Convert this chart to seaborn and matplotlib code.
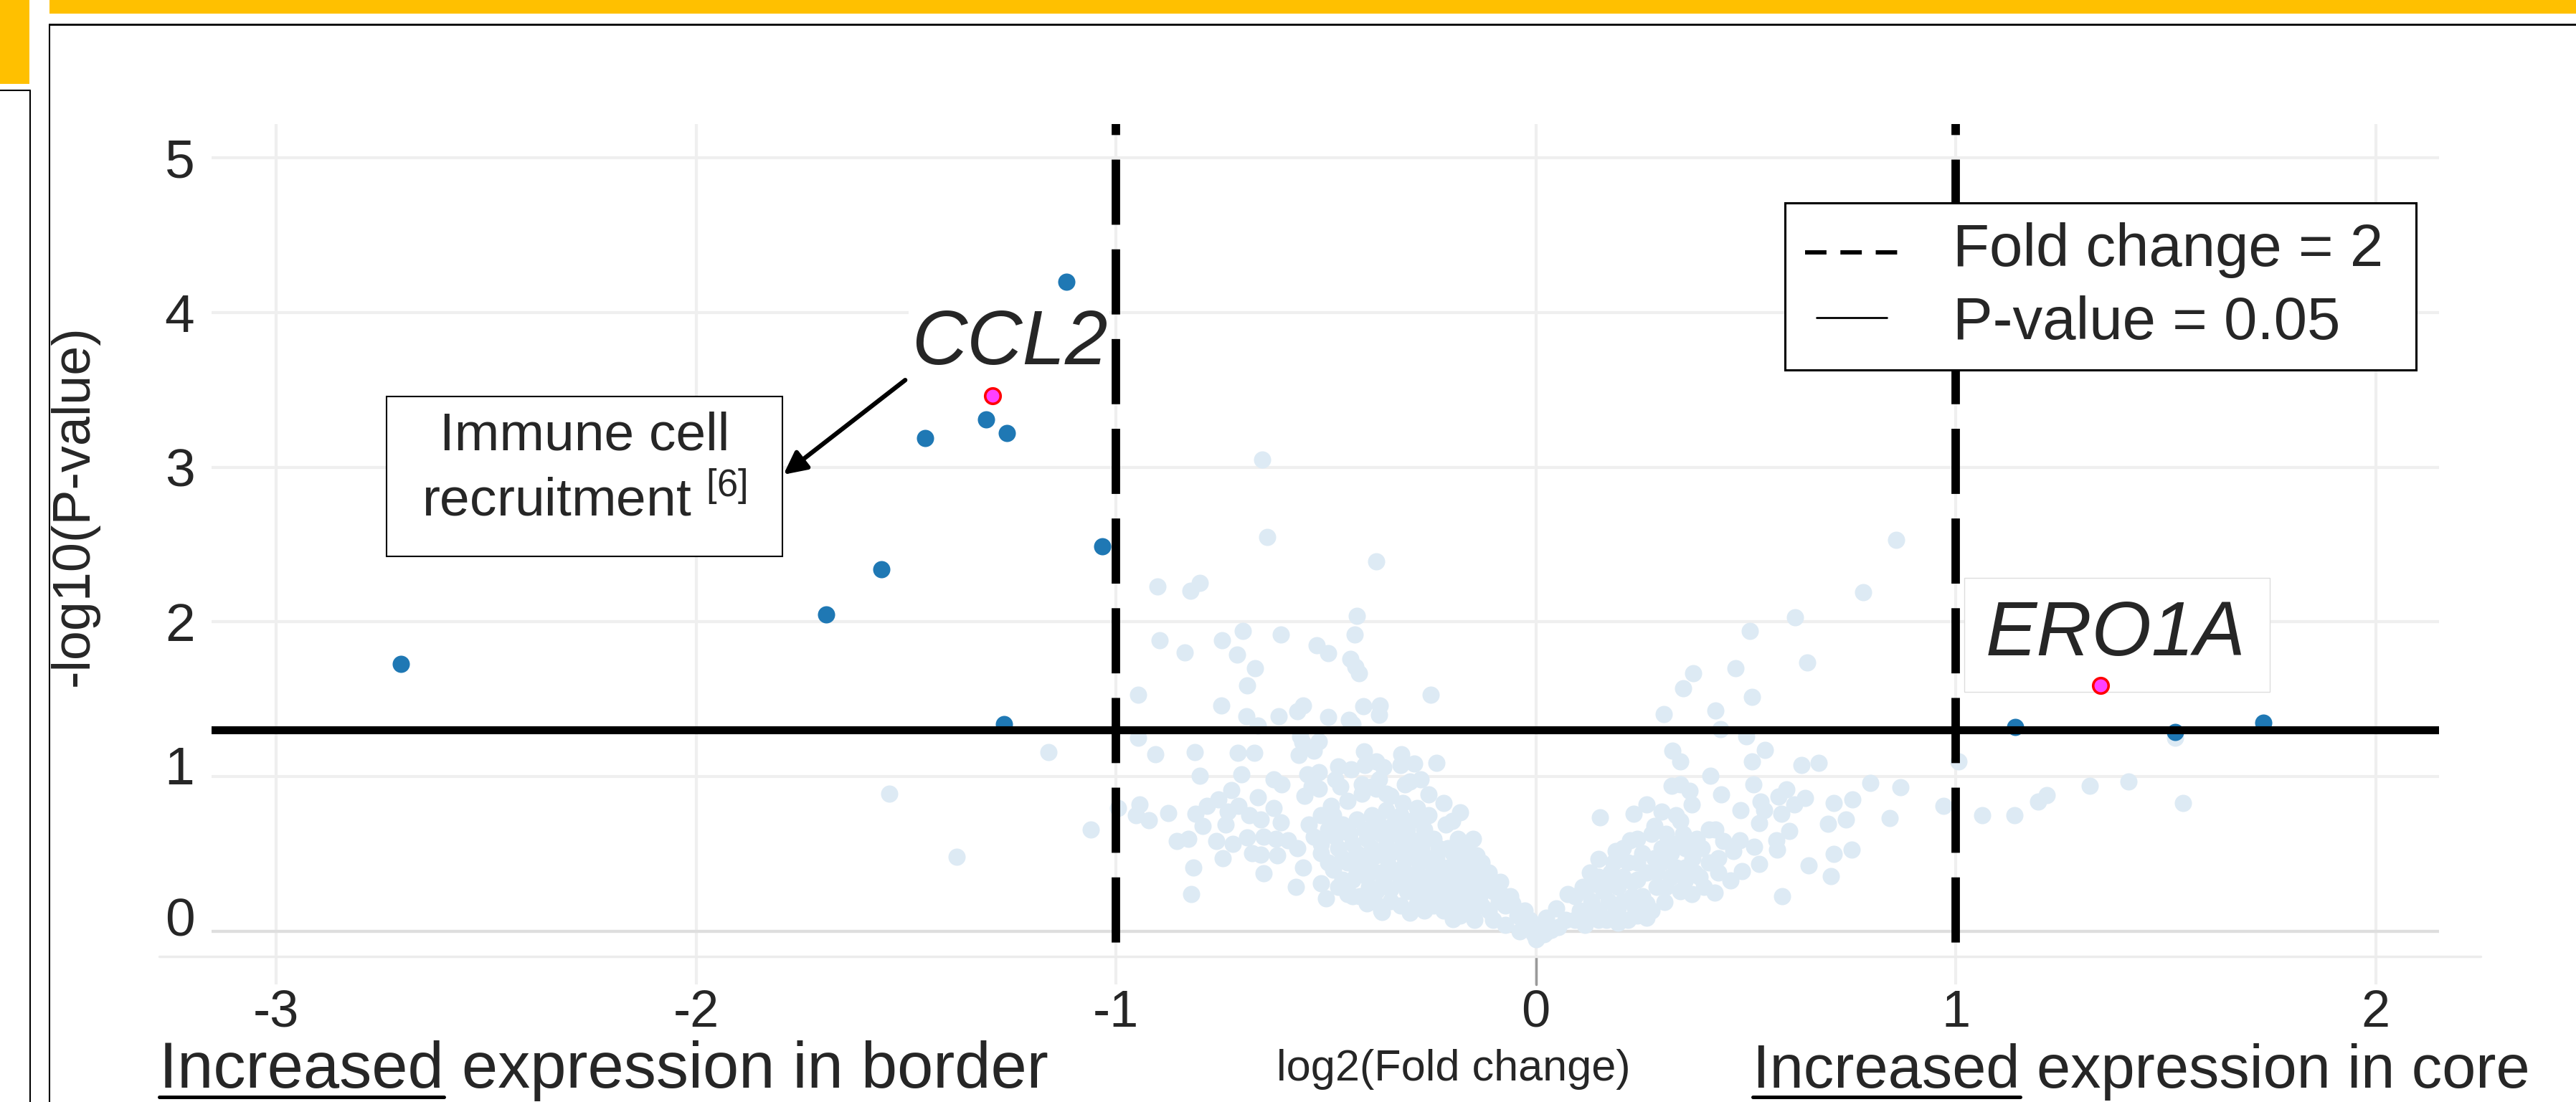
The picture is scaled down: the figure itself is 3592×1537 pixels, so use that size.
import matplotlib
matplotlib.use("Agg")
import pandas as pd
import seaborn as sns
import matplotlib.pyplot as plt
from matplotlib.lines import Line2D
from matplotlib.patches import Rectangle
from matplotlib.transforms import ScaledTranslation

# genes that are not significant (light cloud)
ns_fc = [
    # far left
    -1.54, -1.38, -1.16, -1.06,
    -0.947, -0.837, -0.907, -0.812, -0.947, -0.801, -0.944, -0.952, -0.921, -0.875, -0.995,
    -0.810, -0.784, -0.793, -0.855, -0.827, -0.761, -0.816, -0.821,
    # upper part
    -0.651, -0.639, -0.381, -0.902, -0.822, -0.801, -0.426, -0.896, -0.747, -0.698, -0.608,
    -0.522, -0.495, -0.432, -0.441, -0.429, -0.421, -0.669, -0.711,
    0.858, 0.779, 0.617, 0.510, 0.646, 0.475, 0.374,
    -0.688, -0.750, -0.250, -0.690, -0.613, -0.568, -0.554, -0.494, -0.445, -0.411, -0.371,
    -0.374, -0.662, -0.437, -0.562,
    # left arm, sparse part
    -0.557, -0.517, -0.710, -0.670, -0.565, -0.528, -0.410, -0.320, -0.289, -0.237, -0.471,
    -0.440, -0.408, -0.380, -0.363, -0.323, -0.274, -0.702, -0.625, -0.605, -0.545, -0.517,
    -0.534, -0.517, -0.551, -0.477, -0.465, -0.414, -0.391, -0.374, -0.357, -0.312, -0.300,
    -0.255, -0.220, -0.180, -0.200, -0.725, -0.756, -0.662, -0.708, -0.733, -0.739, -0.682,
    -0.656, -0.625, -0.608, -0.688, -0.722, -0.745, -0.648, -0.619, -0.591, -0.676, -0.656,
    -0.616, -0.648, -0.571, -0.511, -0.500, -0.568, -0.554, -0.540, -0.511, -0.488, -0.366,
    -0.300, -0.420,
    # left arm, dense part
    -0.528, -0.494, -0.460, -0.426, -0.391, -0.357, -0.323, -0.289, -0.266, -0.243,
    -0.511, -0.471, -0.437, -0.403, -0.369, -0.334, -0.300, -0.272, -0.232, -0.198,
    -0.482, -0.448, -0.414, -0.380, -0.346, -0.312, -0.277, -0.243, -0.209, -0.175, -0.152,
    -0.471, -0.437, -0.403, -0.369, -0.334, -0.300, -0.266, -0.232, -0.198, -0.163, -0.129, -0.112,
    -0.414, -0.380, -0.346, -0.306, -0.272, -0.237, -0.203, -0.169, -0.135, -0.101,
    -0.403, -0.369, -0.300, -0.266, -0.220, -0.180, -0.146, -0.112, -0.072, -0.044, -0.015, 0.008,
    -0.437, -0.482, -0.448, -0.414, -0.380, -0.346, -0.317, -0.283, -0.255, -0.386, -0.084,
    -0.061, -0.129, -0.163, -0.186, -0.215, -0.149, -0.027, 0.019, -0.072, -0.101, -0.038, -0.198,
    0.000, -0.030, 0.020, 0.000,
    -0.511, -0.477, -0.443, -0.408, -0.374, -0.340, -0.306, -0.272, -0.237, -0.209,
    -0.494, -0.460, -0.426, -0.391, -0.357, -0.323, -0.289, -0.255, -0.186, -0.141,
    -0.460, -0.426, -0.391, -0.351, -0.317, -0.283, -0.249, -0.215, -0.180, -0.146,
    -0.448, -0.397, -0.363, -0.323, -0.289, -0.255, -0.220, -0.186, -0.152, -0.118, -0.089,
    -0.386, -0.346, -0.323, -0.283, -0.243, -0.203, -0.163, -0.129, -0.089, -0.055, -0.027, -0.004,
    # right arm
    0.350, 0.514, 0.304, 0.428, 0.440, 0.501,
    0.326, 0.344, 0.545, 0.515, 0.632, 0.674, 0.415, 0.518, 0.324, 0.344, 0.366, 0.442, 0.372,
    0.487, 0.153, 0.535, 0.544, 0.597, 0.578, 0.641, 0.615, 0.585, 0.531, 0.604, 0.710, 0.754,
    0.696, 0.739, 0.710, 0.752, 0.649, 0.702, 0.586, 0.572, 0.575, 0.520, 0.532, 0.485, 0.491,
    0.464, 0.426, 0.372, 0.306, 0.413, 0.427, 0.333, 0.344, 0.299, 0.264, 0.233, 0.282, 0.373,
    0.384, 0.447, 0.470, 0.225, 0.190, 0.150, 0.128, 0.111, 0.076, 0.048, 0.025, 0.002,
    0.179, 0.219, 0.253, 0.299, 0.333, 0.373, 0.413, 0.435, 0.378, 0.333, 0.299, 0.264, 0.230,
    0.196, 0.162, 0.133, 0.105, 0.071, 0.036, 0.207, 0.253, 0.287, 0.321, 0.356, 0.276, 0.242,
    0.185, 0.150, 0.116, 0.219, 0.264,
    0.150, 0.185, 0.207, 0.242, 0.276, 0.310, 0.350, 0.242, 0.282, 0.321, 0.356, 0.396,
    0.287, 0.310, 0.356, 0.390, 0.401, 0.435, 0.344, 0.230, 0.173, 0.150, 0.196, 0.236, 0.264,
    0.093, 0.128, 0.168, 0.196, 0.054, 0.025, 0.093, 0.116, 0.139, 0.168, 0.207, 0.242,
    # right side, outer
    0.797, 0.869, 0.971, 0.843, 1.006, 1.063, 1.140, 1.196, 1.216, 1.320, 1.412, 1.542, 1.523,
]
ns_p = [
    0.89, 0.48, 1.16, 0.66,
    1.531, 1.801, 1.145, 1.157, 1.253, 1.006, 0.821, 0.751, 0.720, 0.764, 0.798,
    0.759, 0.813, 0.682, 0.582, 0.597, 0.582, 0.412, 0.242,
    3.05, 2.55, 2.39, 2.23, 2.20, 2.25, 2.04, 1.88, 1.88, 1.94, 1.92,
    1.85, 1.80, 1.92, 1.76, 1.71, 1.67, 1.70, 1.79,
    2.53, 2.19, 2.03, 1.94, 1.74, 1.70, 1.67,
    1.588, 1.462, 1.528, 1.392, 1.392, 1.423, 1.462, 1.387, 1.369, 1.454, 1.462,
    1.400, 1.330, 1.338, 1.261,
    1.222, 1.230, 1.153, 1.153, 1.138, 1.168, 1.165, 1.145, 1.083, 1.091, 1.068,
    1.045, 1.076, 1.099, 1.060, 1.076, 0.983, 1.014, 0.983, 0.952, 1.014, 1.030,
    0.937, 0.922, 0.875, 0.983, 0.937, 0.952, 0.937, 0.983, 0.891, 0.952, 0.968,
    0.883, 0.829, 0.767, 0.713, 0.914, 0.852, 0.867, 0.813, 0.775, 0.690, 0.752,
    0.721, 0.798, 0.705, 0.605, 0.566, 0.474, 0.613, 0.597, 0.590, 0.505, 0.497,
    0.489, 0.374, 0.289, 0.312, 0.212, 0.536, 0.412, 0.690, 0.752, 0.813, 0.127,
    0.119, 0.227,
    0.613, 0.659, 0.690, 0.721, 0.752, 0.783, 0.752, 0.721, 0.659, 0.597,
    0.505, 0.536, 0.567, 0.597, 0.628, 0.628, 0.597, 0.536, 0.536, 0.505,
    0.397, 0.443, 0.459, 0.489, 0.505, 0.474, 0.443, 0.412, 0.412, 0.443, 0.412,
    0.289, 0.335, 0.351, 0.381, 0.381, 0.351, 0.320, 0.320, 0.289, 0.320, 0.351, 0.381,
    0.227, 0.258, 0.273, 0.258, 0.227, 0.227, 0.196, 0.196, 0.227, 0.258,
    0.181, 0.135, 0.135, 0.135, 0.135, 0.104, 0.073, 0.135, 0.165, 0.104, 0.073, 0.011,
    0.227, 0.752, 0.844, 0.891, 0.921, 0.875, 0.829, 0.798, 0.752, 0.659, 0.320,
    0.227, 0.443, 0.536, 0.597, 0.690, 0.597, 0.135, -0.020, 0.042, 0.073, 0.000, 0.080,
    -0.030, 0.020, 0.000, -0.050,
    0.567, 0.613, 0.628, 0.659, 0.690, 0.690, 0.659, 0.597, 0.474, 0.536,
    0.443, 0.474, 0.505, 0.536, 0.551, 0.536, 0.505, 0.474, 0.474, 0.489,
    0.335, 0.381, 0.397, 0.428, 0.412, 0.381, 0.366, 0.351, 0.366, 0.381,
    0.242, 0.289, 0.320, 0.320, 0.273, 0.273, 0.258, 0.242, 0.273, 0.304, 0.258,
    0.196, 0.196, 0.165, 0.181, 0.165, 0.150, 0.150, 0.165, 0.196, 0.181, 0.042, -0.020,
    1.573, 1.516, 1.403, 1.428, 1.307, 1.261,
    1.168, 1.099, 1.172, 1.099, 1.076, 1.088, 1.006, 0.949, 0.940, 0.952, 0.909, 0.886, 0.818,
    0.783, 0.739, 0.837, 0.783, 0.918, 0.870, 0.860, 0.821, 0.759, 0.698, 0.651, 0.829, 0.852,
    0.693, 0.724, 0.502, 0.528, 0.428, 0.358, 0.227, 0.590, 0.528, 0.546, 0.435, 0.590, 0.389,
    0.327, 0.250, 0.242, 0.188, 0.659, 0.659, 0.752, 0.713, 0.775, 0.821, 0.759, 0.682, 0.566,
    0.597, 0.582, 0.520, 0.590, 0.520, 0.466, 0.381, 0.289, 0.242, 0.150, 0.088, 0.042,
    0.381, 0.443, 0.505, 0.536, 0.567, 0.474, 0.443, 0.381, 0.381, 0.412, 0.443, 0.381, 0.320,
    0.289, 0.258, 0.196, 0.135, 0.073, 0.011, 0.196, 0.227, 0.289, 0.351, 0.335, 0.135, 0.104,
    0.104, 0.073, 0.042, 0.073, 0.088,
    0.351, 0.443, 0.536, 0.597, 0.628, 0.628, 0.628, 0.443, 0.474, 0.505, 0.536, 0.536,
    0.381, 0.289, 0.412, 0.351, 0.289, 0.474, 0.258, 0.227, 0.196, 0.135, 0.150, 0.150, 0.181,
    0.073, 0.104, 0.073, 0.057, 0.026, -0.004, 0.227, 0.258, 0.304, 0.320, 0.351, 0.335,
    0.96, 0.93, 0.81, 0.73, 1.10, 0.75, 0.75, 0.84, 0.88, 0.94, 0.97, 0.83, 1.25,
]

# significant genes
sig_fc = [-2.703, -1.691, -1.559, -1.455, -1.309, -1.260, -1.118, -1.032, -1.267, 1.141, 1.523, 1.733]
sig_p = [1.73, 2.05, 2.34, 3.19, 3.31, 3.22, 4.20, 2.49, 1.34, 1.32, 1.29, 1.35]

# highlighted genes
hl_genes = ["CCL2", "ERO1A"]
hl_fc = [-1.294, 1.345]
hl_p = [3.46, 1.59]

fc_cut = 1
p_cut = 1.301  # -log10(0.05)
x_ticks = [-3, -2, -1, 0, 1, 2]
y_ticks = [0, 1, 2, 3, 4, 5]

sns.set_style("white")
plt.rcParams['font.family'] = ['Liberation Sans', 'DejaVu Sans']
plt.rcParams['axes.unicode_minus'] = False
plt.rcParams['mathtext.fontset'] = 'custom'
plt.rcParams['mathtext.rm'] = 'Liberation Sans'
plt.rcParams['mathtext.it'] = 'Liberation Sans:italic'

W, H = 3592, 1537


def fx(px):
    return px / W


def fy(py):
    return 1 - py / H


fig = plt.figure(figsize=(W / 100, H / 100), dpi=100)
ax = fig.add_axes([fx(295), fy(1373), (3401 - 295) / W, (1373 - 173) / H])

ns = pd.DataFrame({'fc': ns_fc, 'p': ns_p})
sig = pd.DataFrame({'fc': sig_fc, 'p': sig_p})
hl = pd.DataFrame({'gene': hl_genes, 'fc': hl_fc, 'p': hl_p})

sns.scatterplot(data=ns, x='fc', y='p', color='#ddeaf4', s=300, linewidth=0, ax=ax, zorder=2, legend=False)
sns.scatterplot(data=sig, x='fc', y='p', color='#1f78b4', s=300, linewidth=0, ax=ax, zorder=3, legend=False)

# threshold lines
for v in [-fc_cut, fc_cut]:
    ax.plot([v, v], [5.218, -0.16], color='black', lw=8.5, zorder=4,
            linestyle=(6.4, (7.7, 2.9)), dash_capstyle='butt', clip_on=False)
ax.axhline(p_cut, color='black', lw=8, zorder=4)

# highlighted genes on top
sns.scatterplot(data=hl, x='fc', y='p', color='#ff40ff', edgecolor='#ff0000', s=240, linewidth=2.6,
                ax=ax, zorder=6, legend=False)

ax.set_xlim(-3.154, 2.151)
ax.set_ylim(-0.343, 5.218)
ax.set_xticks(x_ticks)
ax.set_yticks(y_ticks)
ax.set_xticklabels([str(t) for t in x_ticks])
ax.set_yticklabels([str(t) for t in y_ticks])
ax.grid(True, color='#efefef', linewidth=3)
ax.set_axisbelow(True)
ax.axhline(0, color='#dedede', lw=3, zorder=1)
ax.plot([0, 0], [-0.16, -0.343], color='#9a9a9a', lw=2.5, zorder=1, clip_on=False)
ax.tick_params(axis='x', length=0, pad=5, labelsize=52)
ax.tick_params(axis='y', length=0, pad=17, labelsize=54)
for s in ax.spines.values():
    s.set_visible(False)
ax.set_xlabel('')
ax.set_ylabel('')

# the "0" and "1" labels sit a little higher in the original
for lab, up in zip(ax.get_yticklabels()[:2], [20, 16]):
    lab.set_transform(lab.get_transform() + ScaledTranslation(0, up / 100, fig.dpi_scale_trans))

# gene labels
ax.text(-1.254, 3.794, 'CCL2', fontsize=77, style='italic', ha='center', va='center', zorder=4.6,
        bbox=dict(fc='white', ec='none', pad=2))
ax.add_patch(Rectangle((fx(2739), fy(965)), (3165 - 2739) / W, (965 - 806) / H, transform=fig.transFigure,
                       fc='white', ec='#dddddd', lw=1, zorder=4.6, clip_on=False))
ax.text(1.381, 1.914, 'ERO1A', fontsize=77, style='italic', ha='center', va='center', zorder=4.7)

# annotation box + arrow
ax.annotate('', xy=(-1.792, 2.952), xytext=(-1.502, 3.563),
            arrowprops=dict(arrowstyle='-|>', color='black', lw=4.5, mutation_scale=48, shrinkA=0, shrinkB=0),
            zorder=5)
fig.add_artist(Rectangle((fx(539), fy(776)), (1091 - 539) / W, (776 - 553) / H, transform=fig.transFigure,
                         fc='white', ec='black', lw=1.5, zorder=10))
fig.text(fx(815), fy(608), 'Immune cell', fontsize=54, ha='center', va='center', zorder=11)
fig.text(fx(815), fy(699), r'recruitment $^{[6]}$', fontsize=54, ha='center', va='center', zorder=11)

# legend
fig.add_artist(Rectangle((fx(2489), fy(516)), (3369 - 2489) / W, (516 - 283) / H, transform=fig.transFigure,
                         fc='white', ec='black', lw=2.2, zorder=10))
fig.add_artist(Line2D([fx(2517), fx(2646)], [fy(352)] * 2, color='black', lw=4.3,
                      linestyle=(0, (5, 3.25)), dash_capstyle='butt', zorder=11))
fig.add_artist(Line2D([fx(2533), fx(2631)], [fy(443)] * 2, color='black', lw=2, zorder=11))
fig.text(fx(2723), fy(349), 'Fold change = 2', fontsize=60, va='center', ha='left', zorder=11)
fig.text(fx(2723), fy(451), 'P-value = 0.05', fontsize=60, va='center', ha='left', zorder=11)

# axis labels
fig.text(fx(103), fy(705), '-log10(P-value)', rotation=90, fontsize=53, ha='center', va='center')
fig.text(fx(2027), fy(1507), 'log2(Fold change)', fontsize=44, ha='center', va='baseline')

# direction labels with underlined "Increased"
fig.canvas.draw()
renderer = fig.canvas.get_renderer()
for side, x0, size in [('border', 222, 65), ('core', 2444, 61)]:
    fig.text(fx(x0), fy(1517), 'Increased expression in ' + side, fontsize=size, ha='left', va='baseline')
    tmp = fig.text(fx(x0), fy(1517), 'Increased', fontsize=size, ha='left', va='baseline')
    bb = tmp.get_window_extent(renderer)
    tmp.remove()
    fig.add_artist(Line2D([bb.x0 / W, bb.x1 / W], [fy(1530)] * 2, color='black', lw=3.6))

# poster frame pieces
fig.add_artist(Rectangle((fx(69), fy(19)), 1 - fx(69), 19 / H, transform=fig.transFigure,
                         fc='#ffc000', ec='none', zorder=12))
fig.add_artist(Rectangle((0, fy(117)), fx(41), 117 / H, transform=fig.transFigure,
                         fc='#ffc000', ec='none', zorder=12))
fig.add_artist(Line2D([fx(69), 1], [fy(34)] * 2, color='black', lw=2, zorder=12))
fig.add_artist(Line2D([fx(69)] * 2, [fy(34), 0], color='black', lw=1.5, zorder=12))
fig.add_artist(Line2D([0, fx(42)], [fy(126)] * 2, color='black', lw=1.5, zorder=12))
fig.add_artist(Line2D([fx(42)] * 2, [fy(126), 0], color='black', lw=1.5, zorder=12))
fig.add_artist(Line2D([fx(222), fx(3459)], [fy(1334)] * 2, color='#ececec', lw=2.5, zorder=1))

fig.savefig('out.png', dpi=100)
